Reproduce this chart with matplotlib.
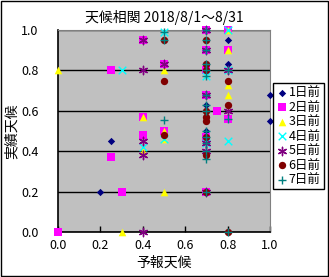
import matplotlib
matplotlib.use('Agg')
import matplotlib.pyplot as plt
from matplotlib.patches import Rectangle

plt.rcParams['font.family'] = ['Noto Sans CJK JP', 'DejaVu Sans']

x1 = [0.2, 0.25, 0.7, 0.7, 0.8, 0.8, 1.0, 1.0, 0.7, 0.7]
y1 = [0.2, 0.45, 0.63, 1.0, 0.95, 0.83, 0.68, 0.55, 0.5, 0.83]
x2 = [0.0, 0.25, 0.25, 0.3, 0.4, 0.4, 0.4, 0.5, 0.5, 0.75, 0.8, 0.8, 0.8, 0.7, 0.7, 0.7, 0.7, 0.7, 0.7]
y2 = [0.0, 0.8, 0.37, 0.2, 0.95, 0.57, 0.48, 0.83, 0.5, 0.6, 1.0, 0.9, 0.56, 1.0, 0.9, 0.8, 0.68, 0.47, 0.2]
x3 = [0.0, 0.3, 0.5, 0.4, 0.4, 0.5, 0.5, 0.5, 0.8, 0.8, 0.8, 0.8]
y3 = [0.8, 0.0, 0.2, 0.57, 0.4, 0.8, 0.5, 0.46, 0.9, 0.68, 0.73, 1.0]
x4 = [0.3, 0.5, 0.8, 0.8, 0.4, 0.5, 0.7, 0.7, 0.8]
y4 = [0.8, 0.99, 0.45, 1.0, 0.42, 0.46, 0.77, 0.44, 0.8]
x5 = [0.4, 0.4, 0.4, 0.4, 0.4, 0.5, 0.8, 0.8, 0.7, 0.7, 0.7, 0.7, 0.7, 0.7]
y5 = [0.8, 0.0, 0.95, 0.45, 0.38, 0.83, 0.8, 0.6, 0.2, 1.0, 0.9, 0.68, 0.44, 0.4]
x6 = [0.5, 0.5, 0.5, 0.8, 0.8, 0.8, 0.7, 0.7, 0.7, 0.7, 0.7, 0.7, 0.7, 0.7, 0.7]
y6 = [0.95, 0.75, 0.48, 0.75, 0.63, 0.0, 0.2, 0.57, 0.55, 0.38, 0.95, 0.8, 0.83, 0.6, 0.47]
x7 = [0.5, 0.5, 0.5, 0.8, 0.8, 0.8, 0.7, 0.7, 0.7, 0.7, 0.7, 0.7, 0.7, 0.7, 0.7, 0.7, 0.7, 0.7, 0.7, 0.7, 0.7]
y7 = [0.99, 0.95, 0.555, 0.56, 0.0, 0.8, 1.0, 0.95, 0.9, 0.83, 0.8, 0.77, 0.68, 0.63, 0.6, 0.5, 0.47, 0.44, 0.4, 0.36, 0.2]

labels = ['1日前', '2日前', '3日前', '4日前', '5日前', '6日前', '7日前']
xs = [x1, x2, x3, x4, x5, x6, x7]
ys = [y1, y2, y3, y4, y5, y6, y7]
colors = ['#000080', '#FF00FF', '#FFFF00', '#00FFFF', '#800080', '#800000', '#008080']
markers = ['D', 's', '^', 'x', '*', 'o', '+']
sizes = [14, 26, 30, 30, 36, 28, 34]

fig = plt.figure(figsize=(3.29, 2.77), dpi=100)
fig.patch.set_facecolor('white')
fig.patches.append(Rectangle((0.002, 0.002), 0.995, 0.995, transform=fig.transFigure,
                             fill=False, edgecolor='black', linewidth=1))

ax = fig.add_axes([58/329, 45/277, 212/329, 202/277])
ax.set_facecolor('#C0C0C0')

for i in range(7):
    m = markers[i]
    if m == '*':
        # excel style asterisk: x and + overlaid
        m = (6, 2, 0)
    if markers[i] in ('x', '+', '*'):
        ax.scatter(xs[i], ys[i], marker=m, s=sizes[i], color=colors[i], linewidths=1,
                   label=labels[i], zorder=3 + i, clip_on=False)
    else:
        ax.scatter(xs[i], ys[i], marker=m, s=sizes[i], color=colors[i], linewidths=0,
                   label=labels[i], zorder=3 + i, clip_on=False)

ax.set_xlim(0, 1)
ax.set_ylim(0, 1)
ax.set_xticks([0, 0.2, 0.4, 0.6, 0.8, 1.0])
ax.set_yticks([0, 0.2, 0.4, 0.6, 0.8, 1.0])
ax.set_xticklabels(['0.0', '0.2', '0.4', '0.6', '0.8', '1.0'], fontsize=9)
ax.set_yticklabels(['0.0', '0.2', '0.4', '0.6', '0.8', '1.0'], fontsize=9)
ax.tick_params(axis='x', direction='in', length=4, width=1, pad=5)
ax.tick_params(axis='y', length=0, pad=14)
ax.yaxis.grid(True, color='black', linewidth=1)
ax.set_axisbelow(True)
for s in ['top', 'right']:
    ax.spines[s].set_color('#808080')
for s in ['left', 'bottom']:
    ax.spines[s].set_color('black')
    ax.spines[s].set_linewidth(1.2)

ax.set_xlabel('予報天候', fontsize=10, labelpad=3)
ax.set_ylabel('実績天候', fontsize=10, labelpad=2)
ax.set_title('天候相関 2018/8/1～8/31', fontsize=10, pad=6)

leg = fig.legend(loc='upper left', bbox_to_anchor=(273/329, 194/277), fontsize=9,
                 frameon=True, fancybox=False, edgecolor='black', framealpha=1,
                 handletextpad=0.0, handlelength=1.0, borderpad=0.25, labelspacing=0.12,
                 borderaxespad=0)
leg.get_frame().set_linewidth(1)

fig.savefig('out.png', dpi=100)
